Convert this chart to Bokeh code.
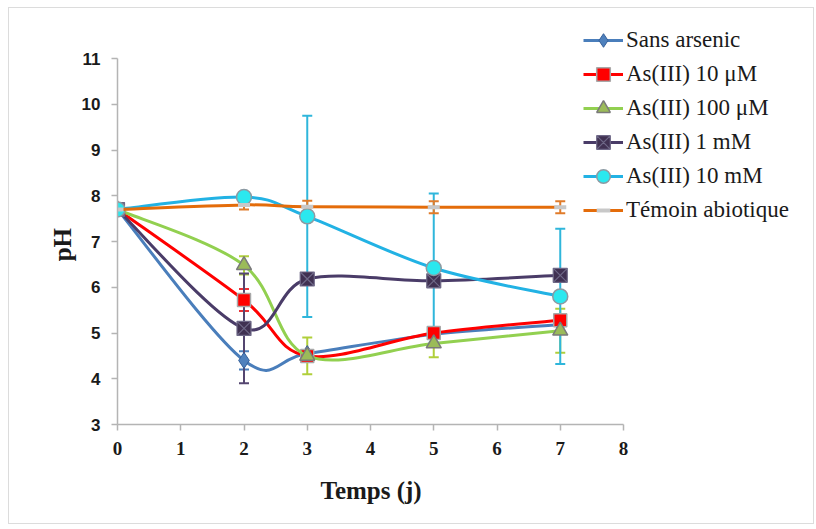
import numpy as np
from bokeh.plotting import figure
from bokeh.models import (ColumnDataSource, Range1d, Whisker, TeeHead, Legend,
                          LegendItem, FixedTicker, Title)
from bokeh.embed import file_html
from bokeh.resources import INLINE

# ---------------- data ----------------
days = [0, 2, 3, 5, 7]
x_ticks = [0, 1, 2, 3, 4, 5, 6, 7, 8]
y_ticks = [3, 4, 5, 6, 7, 8, 9, 10, 11]

names = ["Sans arsenic", "As(III) 10 μM", "As(III) 100 μM",
         "As(III) 1 mM", "As(III) 10 mM", "Témoin abiotique"]
x_title = "Temps (j)"
y_title = "pH"

ph_sans = [7.7, 4.40, 4.55, 4.97, 5.18]
ph_10uM = [7.7, 5.72, 4.50, 5.00, 5.28]
ph_100uM = [7.7, 6.48, 4.50, 4.77, 5.05]
ph_1mM = [7.7, 5.10, 6.18, 6.14, 6.26]
ph_10mM = [7.7, 7.97, 7.55, 6.42, 5.80]
ph_temoin = [7.7, 7.80, 7.76, 7.75, 7.75]

err_sans = [0, 0.20, 0, 0, 0]
err_10uM = [0, 0.24, 0, 0, 0]
err_100uM = [0, 0.20, 0.40, 0.30, 0.48]
err_1mM = [0, 1.20, 0, 0, 0]
err_10mM = [0, 0, 2.20, 1.63, 1.48]
err_temoin = [0, 0.10, 0.13, 0.13, 0.13]

values = [ph_sans, ph_10uM, ph_100uM, ph_1mM, ph_10mM, ph_temoin]
errors = [err_sans, err_10uM, err_100uM, err_1mM, err_10mM, err_temoin]

# ---------------- styles ----------------
line_colors = ["#4A7EBB", "#FF0000", "#92D050", "#4A3C68", "#22B2E4", "#E46C0A"]
err_colors = ["#4A7EBB", "#E8343A", "#B0CF3A", "#544670", "#2FB6DB", "#E07B2A"]
markers = [
    dict(marker="diamond", size=16, fill_color="#4F81BD", line_color="#35609A", line_width=1),
    dict(marker="square", size=13, fill_color="#FF0000", line_color="#A8A8A8", line_width=1.5),
    dict(marker="triangle", size=15, fill_color="#9BBB59", line_color="#7A7A7A", line_width=1.5),
    dict(marker="square_x", size=14, fill_color="#403152", line_color="#6E6887", line_width=1.2),
    dict(marker="circle", size=15, fill_color="#2BE8EF", line_color="#8C9AA3", line_width=1.5),
    dict(marker="dash", size=12, fill_color="#C8C8C8", line_color="#C8C8C8", line_width=4),
]

SERIF = "Liberation Serif"
SANS = "Liberation Sans"

# layout (pixels)
FIG_W, FIG_H = 806, 517
LEFT, BOTTOM = 108, 101          # frame starts at left border, axes at x=0 / y=3
AX_W, AX_H = 506, 366            # pixel length of the 0..8 and 3..11 axes
frame_w = FIG_W - LEFT
frame_h = FIG_H - BOTTOM
x_end = 8 * frame_w / AX_W
y_end = 3 + 8 * frame_h / AX_H

p = figure(width=FIG_W, height=FIG_H, output_backend="svg", toolbar_location=None,
           x_range=Range1d(0, x_end), y_range=Range1d(3, y_end),
           min_border_left=LEFT, min_border_right=0,
           min_border_top=0, min_border_bottom=BOTTOM)
p.styles = {"border": "1px solid #dcdcdc", "margin-left": "8px", "margin-top": "7px"}
p.outline_line_color = None
p.xgrid.grid_line_color = None
p.ygrid.grid_line_color = None
p.background_fill_color = "white"
p.border_fill_color = "white"

for ax in (p.xaxis[0], p.yaxis[0]):
    ax.axis_line_color = "#b4b4b4"
    ax.axis_line_width = 1.5
    ax.major_tick_line_color = "#b4b4b4"
    ax.major_tick_line_width = 1.5
    ax.major_tick_in = 0
    ax.major_tick_out = 6
    ax.minor_tick_line_color = None
    ax.major_label_text_color = "#1a1a1a"

p.xaxis.bounds = (0, 8)
p.yaxis.bounds = (3, 11)
p.xaxis.ticker = FixedTicker(ticks=x_ticks)
p.yaxis.ticker = FixedTicker(ticks=y_ticks)
p.xaxis.major_label_text_font = SERIF
p.xaxis.major_label_text_font_style = "bold"
p.xaxis.major_label_text_font_size = "19px"
p.xaxis.major_label_standoff = 11
p.yaxis.major_label_text_font = SANS
p.yaxis.major_label_text_font_style = "bold"
p.yaxis.major_label_text_font_size = "17px"
p.yaxis.major_label_standoff = 11

# axis titles centred on the 0..8 / 3..11 axes (the frame is wider/taller than the axes)
tx = Title(text=x_title, align="left", offset=203, standoff=34,
           text_font=SERIF, text_font_style="bold", text_font_size="25px",
           text_color="#1a1a1a")
p.add_layout(tx, "below")
# the vertical title is always centred on the frame: pad its (upper) end with
# non-breaking spaces so that the visible "pH" sits at the centre of the 3..11 axis
ty = Title(text=y_title + "\u00a0" * 9, align="center", standoff=6,
           text_font=SERIF, text_font_style="bold", text_font_size="25px",
           text_color="#1a1a1a")
p.add_layout(ty, "left")


def smooth_segments(xs, ys):
    xs = np.asarray(xs, float)
    ys = np.asarray(ys, float)
    n = len(xs)
    d = dict(x0=[], y0=[], x1=[], y1=[], cx0=[], cy0=[], cx1=[], cy1=[])
    for i in range(n - 1):
        ip = max(i - 1, 0)
        inx = min(i + 2, n - 1)
        d["x0"].append(xs[i]); d["y0"].append(ys[i])
        d["x1"].append(xs[i + 1]); d["y1"].append(ys[i + 1])
        d["cx0"].append(xs[i] + (xs[i + 1] - xs[ip]) / 6)
        d["cy0"].append(ys[i] + (ys[i + 1] - ys[ip]) / 6)
        d["cx1"].append(xs[i + 1] - (xs[inx] - xs[i]) / 6)
        d["cy1"].append(ys[i + 1] - (ys[inx] - ys[i]) / 6)
    return d


items = []
for name, vals, errs, lc, ec, mk in zip(names, values, errors, line_colors, err_colors, markers):
    eb = [(x, v - e, v + e) for x, v, e in zip(days, vals, errs) if e > 0]
    if eb:
        src = ColumnDataSource(dict(base=[b[0] for b in eb], lower=[b[1] for b in eb],
                                    upper=[b[2] for b in eb]))
        w = Whisker(source=src, base="base", lower="lower", upper="upper", dimension="height",
                    line_color=ec, line_width=2,
                    upper_head=TeeHead(size=10, line_color=ec, line_width=2),
                    lower_head=TeeHead(size=10, line_color=ec, line_width=2))
        p.add_layout(w)
    seg = smooth_segments(days, vals)
    r_line = p.bezier(source=ColumnDataSource(seg), x0="x0", y0="y0", x1="x1", y1="y1",
                      cx0="cx0", cy0="cy0", cx1="cx1", cy1="cy1",
                      line_color=lc, line_width=3)
    r_mk = p.scatter(x=days, y=vals, **mk)
    items.append(LegendItem(label=name, renderers=[r_line, r_mk]))

legend = Legend(items=items, location=(466, 197), orientation="vertical",
                glyph_width=40, glyph_height=34, label_height=34, spacing=0,
                label_standoff=3, padding=2, margin=0,
                border_line_color=None, background_fill_alpha=0,
                label_text_font=SERIF, label_text_font_size="23px",
                label_text_color="#1a1a1a", label_text_baseline="middle")
p.add_layout(legend, "center")

open("out.html", "w").write(file_html(p, INLINE))
